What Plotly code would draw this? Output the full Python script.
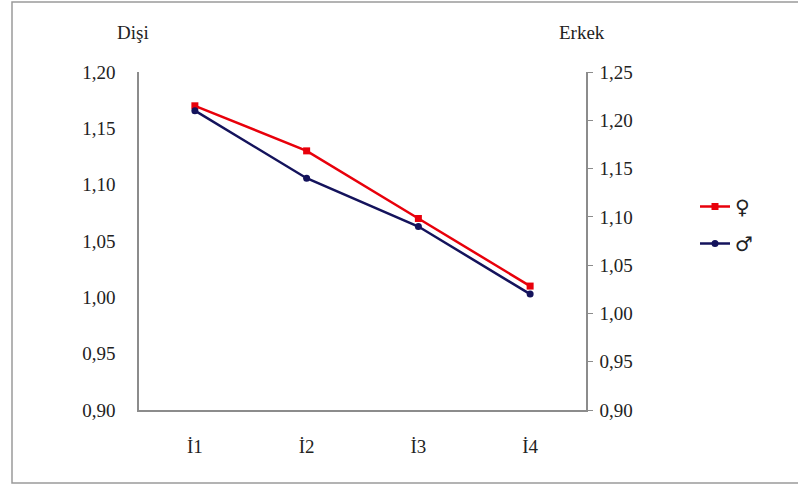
import plotly.graph_objects as go

categories = ["İ1", "İ2", "İ3", "İ4"]
female = [1.17, 1.13, 1.07, 1.01]
male = [1.21, 1.14, 1.09, 1.02]

W, H = 798, 489
L, R, T, B = 139, 212, 72, 79
pw, ph = W - L - R, H - T - B

def px_x(px):
    return (px - L) / pw

def px_y(py):
    return (H - B - py) / ph

font = dict(family="Liberation Serif, Times New Roman, serif", size=19, color="#222222")

fig = go.Figure()
fig.add_trace(go.Scatter(
    x=categories, y=female, name="♀", mode="lines+markers", legendgroup="f",
    line=dict(color="#e8000b", width=2.5),
    marker=dict(symbol="square", size=7, color="#e8000b"),
    yaxis="y",
))
fig.add_trace(go.Scatter(
    x=categories, y=male, name="♂", mode="lines+markers", legendgroup="m",
    line=dict(color="#14135c", width=2.5),
    marker=dict(symbol="circle", size=7, color="#14135c"),
    yaxis="y2",
))

fig.update_layout(
    width=W, height=H,
    margin=dict(l=L, r=R, t=T, b=B, autoexpand=False),
    paper_bgcolor="white", plot_bgcolor="white",
    font=font,
    separators=",.",
    showlegend=True,
    legend=dict(x=px_x(695), y=px_y(187), xanchor="left", yanchor="top",
                font=dict(family="DejaVu Sans", size=20, color="#222222"),
                bgcolor="rgba(0,0,0,0)", tracegroupgap=8, itemwidth=30),
    xaxis=dict(range=[-0.5, 3.5], showline=True, linecolor="#8c8c8c", linewidth=1.5, ticks="",
               showgrid=False, zeroline=False, mirror=False,
               tickfont=font, ticklabelstandoff=18),
    yaxis=dict(range=[0.9, 1.2], dtick=0.05, tickformat=".2f",
               showline=True, linecolor="#8c8c8c", linewidth=1.5,
               ticks="", showgrid=False, zeroline=False, tickfont=font,
               ticklabelstandoff=18),
    yaxis2=dict(range=[0.9, 1.25], dtick=0.05, tickformat=".2f", overlaying="y",
                side="right", showline=True, linecolor="#8c8c8c", linewidth=1.5,
                ticks="outside", ticklen=5, tickcolor="#8c8c8c",
                showgrid=False, zeroline=False, tickfont=font, ticklabelstandoff=3),
    shapes=[dict(type="rect", xref="paper", yref="paper",
                 x0=px_x(12), x1=px_x(805), y0=px_y(483), y1=px_y(2),
                 line=dict(color="#9a9a9a", width=1.5), fillcolor="rgba(0,0,0,0)", layer="below")],
    annotations=[
        dict(text="Dişi", xref="paper", yref="paper", x=px_x(133), y=px_y(33),
             showarrow=False, font=font, xanchor="center", yanchor="middle"),
        dict(text="Erkek", xref="paper", yref="paper", x=px_x(582), y=px_y(33),
             showarrow=False, font=font, xanchor="center", yanchor="middle"),
    ],
)

fig.write_html("out.html", config={"displayModeBar": False},
               post_script="document.body.style.margin='0px';")
